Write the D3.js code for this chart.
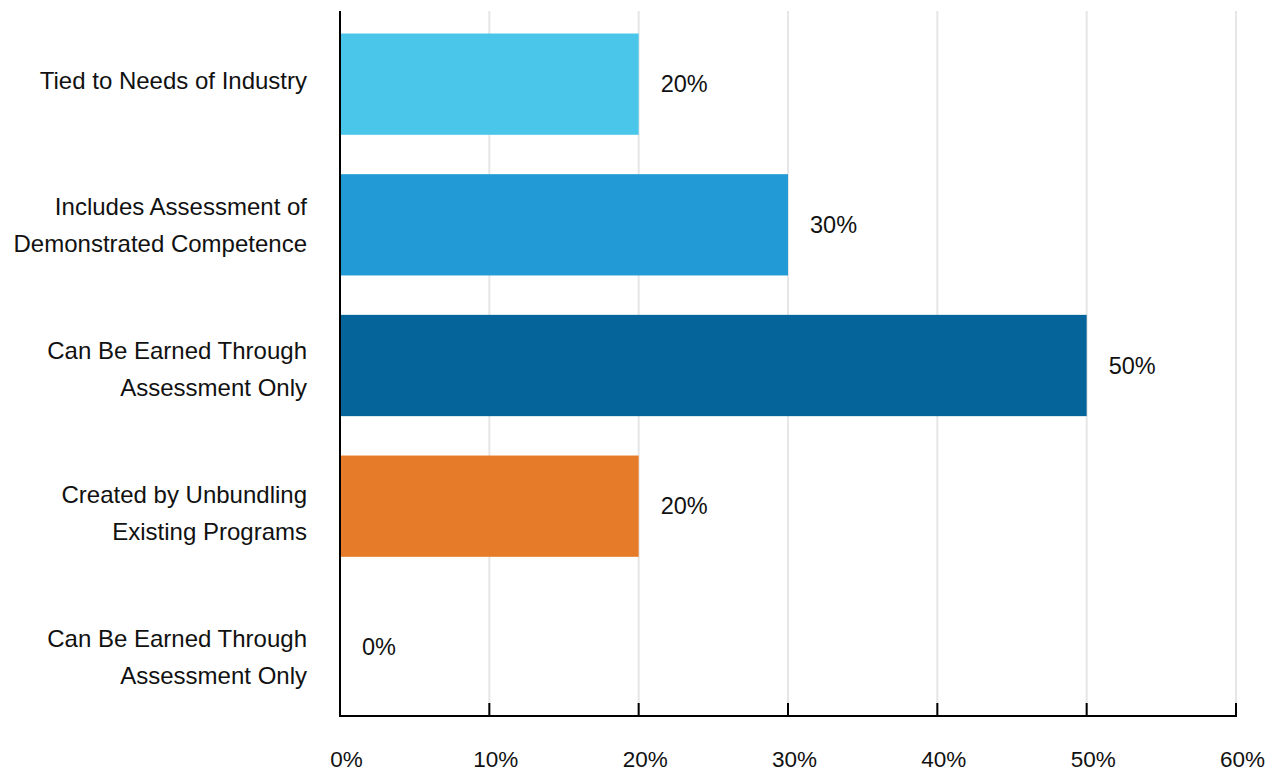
<!DOCTYPE html>
<html>
<head>
<meta charset="utf-8">
<script src="https://cdn.jsdelivr.net/npm/d3@7"></script>
<style>
  body { margin: 0; background: #fff; }
  svg text { font-family: "Liberation Sans", Arial, sans-serif; fill: #111; }
</style>
</head>
<body>
<div id="chart-area"></div>
<script>
// data
var categories = [
  ["Tied to Needs of Industry"],
  ["Includes Assessment of", "Demonstrated Competence"],
  ["Can Be Earned Through", "Assessment Only"],
  ["Created by Unbundling", "Existing Programs"],
  ["Can Be Earned Through", "Assessment Only"]
];
var values = [20, 30, 50, 20, 0];
var barColors = ["#49c6ea", "#229ad6", "#05649a", "#e67c29", "#888888"];
var tickValues = [0, 10, 20, 30, 40, 50, 60];

var width = 1272, height = 771;
var plotLeft = 340, plotRight = 1236, plotTop = 11, plotBottom = 716;

var svg = d3.select("#chart-area")
  .append("svg")
  .attr("width", width)
  .attr("height", height);

var xScale = d3.scaleLinear()
  .domain([0, 60])
  .range([plotLeft, plotRight]);

var yScale = d3.scaleBand()
  .domain(d3.range(values.length))
  .range([plotTop, 720])
  .paddingInner(0.28)
  .paddingOuter(0.16);

// category labels sit on a slightly wider spacing than the bars
var labelScale = d3.scalePoint()
  .domain(d3.range(categories.length))
  .range([80.5, 657]);

// gridlines
svg.append("g")
  .selectAll("line")
  .data(tickValues.slice(1))
  .enter()
  .append("line")
  .attr("x1", function(d) { return xScale(d); })
  .attr("x2", function(d) { return xScale(d); })
  .attr("y1", plotTop)
  .attr("y2", plotBottom)
  .attr("stroke", "#e6e6e6")
  .attr("stroke-width", 2);

// bars
svg.append("g")
  .selectAll("rect")
  .data(values)
  .enter()
  .append("rect")
  .attr("x", xScale(0))
  .attr("y", function(d, i) { return yScale(i); })
  .attr("width", function(d) { return xScale(d) - xScale(0); })
  .attr("height", yScale.bandwidth())
  .attr("fill", function(d, i) { return barColors[i]; });

// value labels
svg.append("g")
  .selectAll("text")
  .data(values)
  .enter()
  .append("text")
  .attr("x", function(d) { return xScale(d) + 22; })
  .attr("y", function(d, i) { return yScale(i) + yScale.bandwidth() / 2; })
  .attr("dy", "0.35em")
  .attr("font-size", 23.5)
  .text(function(d) { return d + "%"; });

// category labels
var catLabels = svg.append("g")
  .selectAll("text")
  .data(categories)
  .enter()
  .append("text")
  .attr("text-anchor", "end")
  .attr("font-size", 24)
  .attr("y", function(d, i) { return labelScale(i); });

catLabels.selectAll("tspan")
  .data(function(d) { return d; })
  .enter()
  .append("tspan")
  .attr("x", 307)
  .attr("dy", function(d, j, nodes) {
    var n = nodes.length;
    var first = -(n - 1) * 37 / 2;
    return j === 0 ? (first / 24 + 0.35) + "em" : "37px";
  })
  .text(function(d) { return d; });

// x axis
var xAxis = d3.axisBottom(xScale)
  .tickValues(tickValues)
  .tickSize(0)
  .tickPadding(35)
  .tickFormat(function(d) { return d + "%"; });

var axisG = svg.append("g")
  .attr("transform", "translate(0," + plotBottom + ")")
  .call(xAxis);
axisG.select(".domain").remove();
axisG.selectAll("text")
  .attr("font-size", 22.5)
  .attr("dx", 6)
  .attr("fill", "#111")
  .style("font-family", "Liberation Sans, Arial, sans-serif");

// tick marks pointing up
svg.append("g")
  .selectAll("line")
  .data(tickValues.slice(1))
  .enter()
  .append("line")
  .attr("x1", function(d) { return xScale(d); })
  .attr("x2", function(d) { return xScale(d); })
  .attr("y1", plotBottom - 13)
  .attr("y2", plotBottom)
  .attr("stroke", "#000")
  .attr("stroke-width", 2);

// axis lines
svg.append("line")
  .attr("x1", plotLeft).attr("x2", plotRight + 1)
  .attr("y1", plotBottom).attr("y2", plotBottom)
  .attr("stroke", "#000").attr("stroke-width", 2);
svg.append("line")
  .attr("x1", plotLeft).attr("x2", plotLeft)
  .attr("y1", plotTop).attr("y2", plotBottom + 1)
  .attr("stroke", "#000").attr("stroke-width", 2);
</script>
</body>
</html>
